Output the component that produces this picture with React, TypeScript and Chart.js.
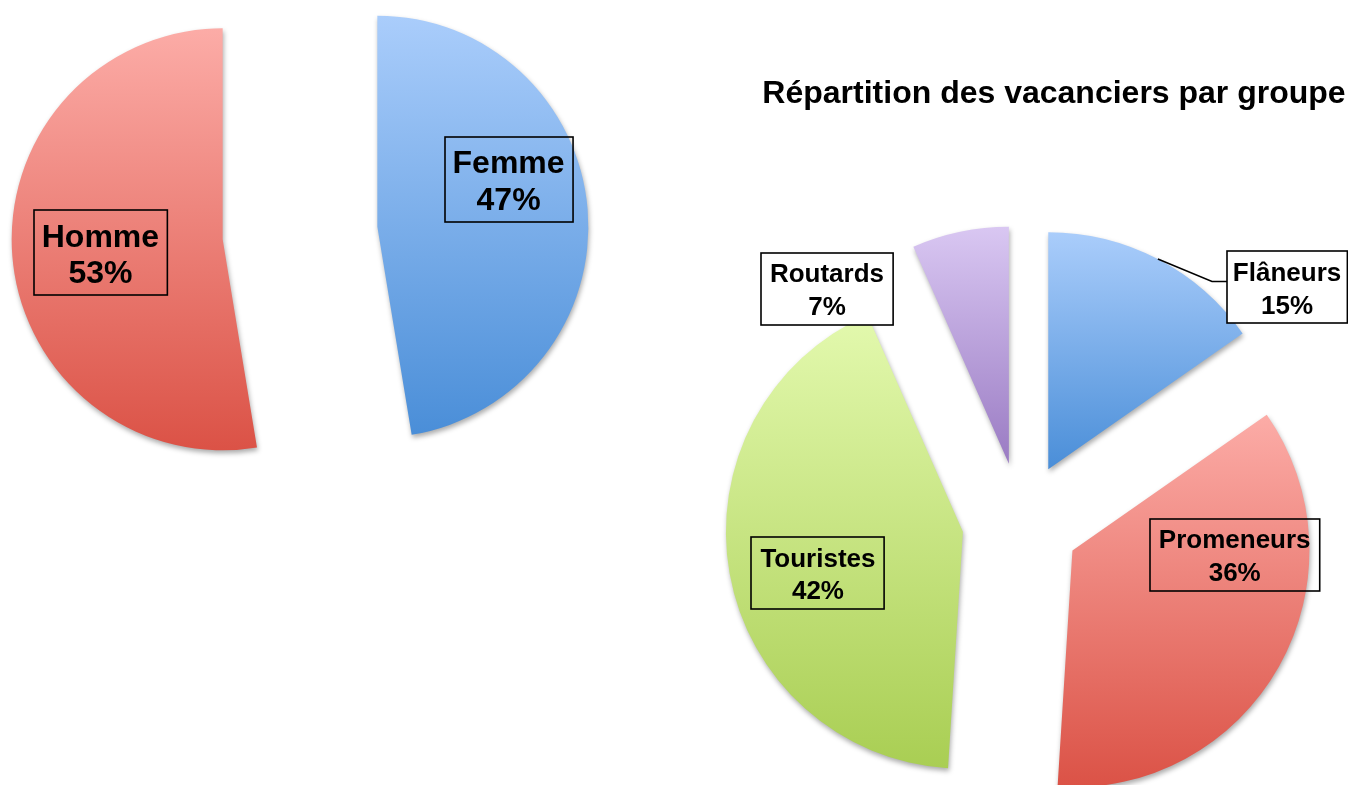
import React, { useEffect, useRef } from "react";
import { Chart, registerables } from "chart.js";

Chart.register(...registerables);

// ---------- data (shares in %, labels show rounded values) ----------
const genderLabels = ["Femme", "Homme"];
const genderValues = [47.4, 52.6];

const groupTitle = "Répartition des vacanciers par groupe";
const groupLabels = ["Flâneurs", "Promeneurs", "Touristes", "Routards"];
const groupValues = [15.3, 35.7, 42.4, 6.6];

// ---------- styles ----------
const BLUE: [string, string] = ["#aacdfb", "#4a8ed8"];
const RED: [string, string] = ["#fcaca7", "#db5246"];
const GREEN: [string, string] = ["#e3f9ae", "#a9ce53"];
const PURPLE: [string, string] = ["#d9c7f2", "#9a7bc3"];

const FONT = '"Liberation Sans", Arial, Helvetica, sans-serif';

type Placement = { angle: number; frac: number; fill?: string; leader?: boolean; padX?: number };

type StyleCfg = {
  explode: number;
  gradients: [string, string][];
  labels: string[];
  values: number[];
  placements: Placement[];
  fontSize: number;
  lineHeight: number;
  padX: number;
  padY: number;
  title?: { text: string; x: number; y: number; size: number };
};

function inRange(a: number, start: number, end: number) {
  let t = a;
  while (t < start) t += Math.PI * 2;
  while (t > start + Math.PI * 2) t -= Math.PI * 2;
  return t <= end;
}

function makePiePlugin(cfg: StyleCfg) {
  return {
    id: "pieStyle",
    afterDatasetsUpdate(chart: any) {
      const meta = chart.getDatasetMeta(0);
      const ctx = chart.ctx as CanvasRenderingContext2D;
      meta.data.forEach((el: any, i: number) => {
        const mid = (el.startAngle + el.endAngle) / 2;
        el.x += Math.cos(mid) * cfg.explode;
        el.y += Math.sin(mid) * cfg.explode;
        const r = el.outerRadius;
        const ys = [el.y, el.y + r * Math.sin(el.startAngle), el.y + r * Math.sin(el.endAngle)];
        if (inRange(-Math.PI / 2, el.startAngle, el.endAngle)) ys.push(el.y - r);
        if (inRange(Math.PI / 2, el.startAngle, el.endAngle)) ys.push(el.y + r);
        const minY = Math.min(...ys);
        const maxY = Math.max(...ys);
        const g = ctx.createLinearGradient(0, minY, 0, maxY);
        const [top, bottom] = cfg.gradients[i];
        g.addColorStop(0, top);
        g.addColorStop(1, bottom);
        el.options = Object.assign({}, el.options, { backgroundColor: g });
      });
    },
    beforeDatasetsDraw(chart: any) {
      const ctx = chart.ctx as CanvasRenderingContext2D;
      ctx.save();
      ctx.shadowColor = "rgba(0,0,0,0.33)";
      ctx.shadowBlur = 5;
      ctx.shadowOffsetX = 1;
      ctx.shadowOffsetY = 3;
    },
    afterDatasetsDraw(chart: any) {
      const ctx = chart.ctx as CanvasRenderingContext2D;
      ctx.restore();
      const meta = chart.getDatasetMeta(0);
      ctx.save();
      ctx.font = `bold ${cfg.fontSize}px ${FONT}`;
      ctx.textAlign = "center";
      ctx.textBaseline = "alphabetic";
      const capH = cfg.fontSize * 0.716;
      meta.data.forEach((el: any, i: number) => {
        const p = cfg.placements[i];
        const ang = ((p.angle - 90) * Math.PI) / 180;
        const d = p.frac * el.outerRadius;
        const cx = el.x + Math.cos(ang) * d;
        const cy = el.y + Math.sin(ang) * d;
        const lines = [cfg.labels[i], `${Math.round(cfg.values[i])}%`];
        const tw = Math.max(...lines.map((l) => ctx.measureText(l).width));
        const padX = p.padX ?? cfg.padX;
        const w = tw + padX * 2;
        const h = lines.length * cfg.lineHeight + cfg.padY;
        const bx = Math.round(cx - w / 2);
        const by = Math.round(cy - h / 2);
        if (p.leader) {
          const mid = (el.startAngle + el.endAngle) / 2;
          const sx = el.x + Math.cos(mid) * el.outerRadius;
          const sy = el.y + Math.sin(mid) * el.outerRadius;
          const ly = cy - 6;
          ctx.beginPath();
          ctx.moveTo(sx, sy);
          ctx.lineTo(bx - 15, ly);
          ctx.lineTo(bx, ly);
          ctx.strokeStyle = "#000";
          ctx.lineWidth = 1.5;
          ctx.stroke();
        }
        if (p.fill) {
          ctx.fillStyle = p.fill;
          ctx.fillRect(bx, by, w, h);
        }
        ctx.strokeStyle = "#000";
        ctx.lineWidth = 1.6;
        ctx.strokeRect(bx, by, w, h);
        ctx.fillStyle = "#000";
        lines.forEach((line, k) => {
          const base = cy - ((lines.length - 1) * cfg.lineHeight) / 2 + k * cfg.lineHeight + capH / 2 + 0.5;
          ctx.fillText(line, cx, base);
        });
      });
      if (cfg.title) {
        ctx.font = `bold ${cfg.title.size}px ${FONT}`;
        ctx.textAlign = "center";
        ctx.fillStyle = "#000";
        ctx.fillText(cfg.title.text, cfg.title.x, cfg.title.y);
      }
      ctx.restore();
    },
  };
}

function pieConfig(
  labels: string[],
  values: number[],
  radius: number,
  padding: { left: number; top: number; right: number; bottom: number },
  plugin: any
): any {
  return {
    type: "pie",
    data: {
      labels,
      datasets: [
        {
          data: values,
          backgroundColor: "#cccccc",
          borderWidth: 0,
          radius,
          clip: false,
        },
      ],
    },
    options: {
      responsive: false,
      maintainAspectRatio: false,
      animation: false,
      events: [],
      layout: { padding },
      plugins: {
        legend: { display: false },
        tooltip: { enabled: false },
        title: { display: false },
      },
    },
    plugins: [plugin],
  };
}

export default function App() {
  const leftRef = useRef<HTMLCanvasElement>(null);
  const rightRef = useRef<HTMLCanvasElement>(null);

  useEffect(() => {
    const left = new Chart(
      leftRef.current as HTMLCanvasElement,
      pieConfig(
        genderLabels,
        genderValues,
        211,
        { left: 0, top: 0, right: 748, bottom: 319 },
        makePiePlugin({
          explode: 77.6,
          gradients: [BLUE, RED],
          labels: genderLabels,
          values: genderValues,
          placements: [
            { angle: 70.2, frac: 0.661 },
            { angle: 263.65, frac: 0.583 },
          ],
          fontSize: 32,
          lineHeight: 36.5,
          padX: 8,
          padY: 12,
        })
      )
    );
    const right = new Chart(
      rightRef.current as HTMLCanvasElement,
      pieConfig(
        groupLabels,
        groupValues,
        237,
        { left: 721, top: 258, right: 27, bottom: 0 },
        makePiePlugin({
          explode: 59,
          gradients: [BLUE, RED, GREEN, PURPLE],
          labels: groupLabels,
          values: groupValues,
          placements: [
            { angle: 52.73, frac: 1.266, fill: "#ffffff", leader: true, padX: 6 },
            { angle: 91.5, frac: 0.685 },
            { angle: 254.1, frac: 0.636 },
            { angle: 313.9, frac: 1.065, fill: "#ffffff" },
          ],
          fontSize: 26,
          lineHeight: 32.5,
          padX: 9,
          padY: 7,
          title: { text: groupTitle, x: 1054, y: 103, size: 32 },
        })
      )
    );
    return () => {
      left.destroy();
      right.destroy();
    };
  }, []);

  return (
    <div
      style={{
        position: "fixed",
        left: 0,
        top: 0,
        width: 1348,
        height: 785,
        background: "#ffffff",
        overflow: "hidden",
      }}
    >
      <canvas ref={leftRef} width={1348} height={785} style={{ position: "absolute", left: 0, top: 0 }} />
      <canvas ref={rightRef} width={1348} height={785} style={{ position: "absolute", left: 0, top: 0 }} />
    </div>
  );
}
